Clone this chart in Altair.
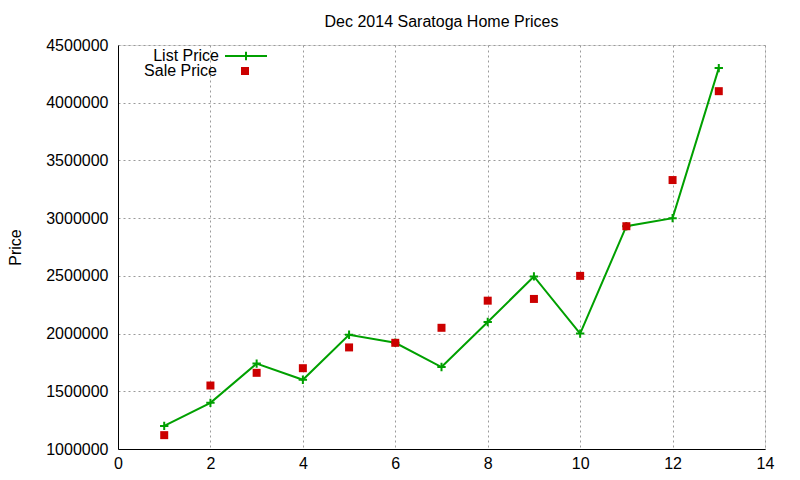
import altair as alt
import pandas as pd

# ---- data ----
months = [1, 2, 3, 4, 5, 6, 7, 8, 9, 10, 11, 12, 13]
list_price = [1200000, 1400000, 1740000, 1600000, 1990000, 1920000, 1710000,
              2100000, 2495000, 2000000, 2930000, 3000000, 4300000]
sale_price = [1120000, 1550000, 1660000, 1700000, 1880000, 1920000, 2050000,
              2285000, 2300000, 2500000, 2930000, 3330000, 4100000]
x_ticks = [0, 2, 4, 6, 8, 10, 12, 14]
y_ticks = [1000000, 1500000, 2000000, 2500000, 3000000, 3500000, 4000000, 4500000]

GREEN = "#00a000"
RED = "#cc0000"
FONT = "Liberation Sans"
PLUS = "M-1,0H1M0,-1V1"

list_df = pd.DataFrame({"n": months, "price": list_price, "series": "List Price"})
sale_df = pd.DataFrame({"n": months, "price": sale_price, "series": "Sale Price"})

xs = alt.Scale(domain=[0, 14], nice=False, zero=False)
ys = alt.Scale(domain=[1000000, 4500000], nice=False, zero=False)

x_enc = alt.X("n:Q", scale=xs, axis=alt.Axis(
    values=x_ticks, title=None, grid=True, tickSize=0, labelPadding=6,
    labelFont=FONT, labelFontSize=16, labelColor="black",
    domainColor="black", gridColor="#9a9a9a", gridDash=[2, 3], labelFlush=False))
y_enc = alt.Y("price:Q", scale=ys, axis=alt.Axis(
    values=y_ticks, format="d", title="Price", grid=True, tickSize=0, labelPadding=10,
    labelFont=FONT, labelFontSize=16, labelColor="black",
    titleFont=FONT, titleFontSize=16, titleFontWeight="normal", titleColor="black",
    titleAngle=-90, titleBaseline="middle", titleAlign="center", titleX=-103, titleY=202,
    domainColor="black", gridColor="#9a9a9a", gridDash=[2, 3], labelFlush=False))

line = alt.Chart(list_df).mark_line(strokeWidth=2).encode(
    x=x_enc, y=y_enc,
    stroke=alt.Stroke("series:N", scale=alt.Scale(domain=["List Price"], range=[GREEN]),
                      legend=alt.Legend(
                          title=None, orient="none", legendX=106, legendY=-11, padding=0,
                          symbolType="M-1,0H1M0,-0.2V0.2", symbolSize=1764,
                          symbolStrokeWidth=2, symbolStrokeColor=GREEN,
                          labelAlign="right", labelOffset={"expr": "-49"},
                          labelFont=FONT, labelFontSize=16, labelColor="black")),
)

plus = alt.Chart(list_df).mark_point(shape=PLUS, size=70, strokeWidth=2, color=GREEN, opacity=1).encode(
    x=alt.X("n:Q", scale=xs), y=alt.Y("price:Q", scale=ys)
)

sale = alt.Chart(sale_df).mark_point(shape="square", size=64, filled=True, opacity=1).encode(
    x=alt.X("n:Q", scale=xs), y=alt.Y("price:Q", scale=ys),
    fill=alt.Fill("series:N", scale=alt.Scale(domain=["Sale Price"], range=[RED]),
                  legend=alt.Legend(
                      title=None, orient="none", legendX=119, legendY=18, padding=0,
                      symbolType="square", symbolSize=64, symbolFillColor=RED,
                      symbolStrokeWidth=0,
                      labelAlign="right", labelOffset={"expr": "-36"},
                      labelFont=FONT, labelFontSize=16, labelColor="black")),
)

chart = alt.layer(line, plus, sale).resolve_legend(fill="independent", stroke="independent").properties(
    width=647, height=404,
    title=alt.TitleParams("Dec 2014 Saratoga Home Prices", font=FONT, fontSize=16,
                          fontWeight="normal", color="black", anchor="middle",
                          orient="top", frame="group", offset=4),
    autosize=alt.AutoSizeParams(type="none"),
    padding={"left": 110, "top": 37, "right": 27, "bottom": 23},
).configure_view(stroke="black", strokeWidth=1).configure(background="white")

chart.save("out.html", embed_options={"renderer": "svg", "actions": False})
